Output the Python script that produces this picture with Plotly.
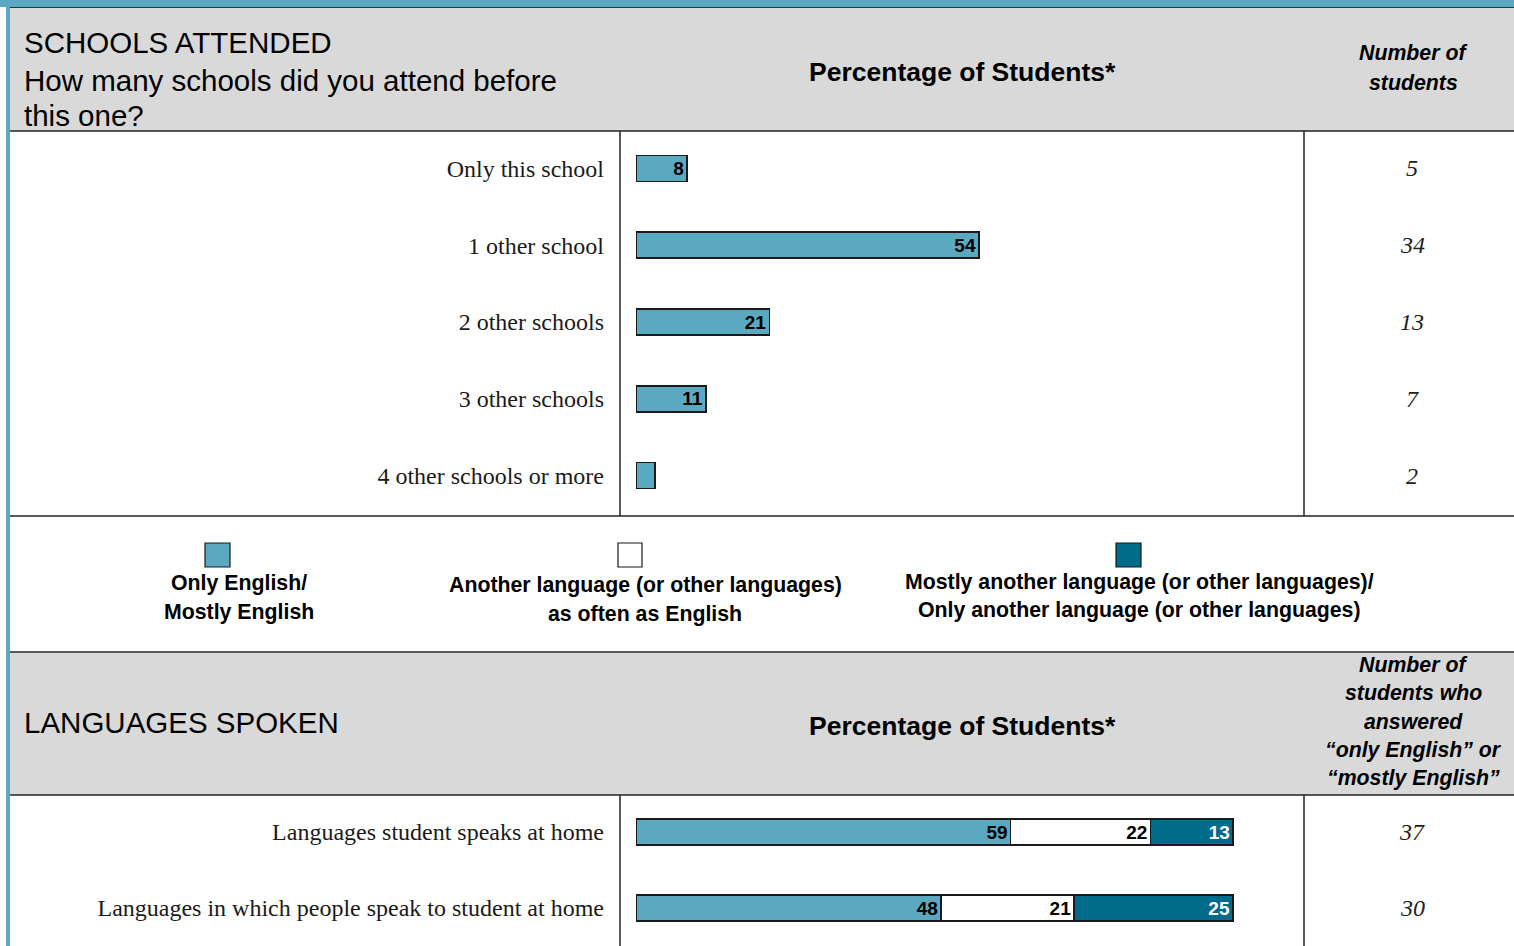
import plotly.graph_objects as go

W, H = 1514, 946

# ---- data -------------------------------------------------------------
school_cats = ["Only this school", "1 other school", "2 other schools",
               "3 other schools", "4 other schools or more"]
school_pct = [8, 54, 21, 11, 3]
school_labels = ["8", "54", "21", "11", ""]
school_counts = [5, 34, 13, 7, 2]

lang_cats = ["Languages student speaks at home",
             "Languages in which people speak to student at home"]
lang_english = [59, 48]
lang_equal = [22, 21]
lang_other = [13, 25]
lang_counts = [37, 30]

legend_lines = [
    ["Only English/", "Mostly English"],
    ["Another language (or other languages)", "as often as English"],
    ["Mostly another language (or other languages)/",
     "Only another language (or other languages)"],
]

# ---- styling ----------------------------------------------------------
TEAL = "#5BA9C1"
DARK_TEAL = "#006B8A"
GREY = "#D9D9D9"
EDGE = "#1A1A1A"
SANS = "Liberation Sans, Arial, sans-serif"
SERIF = "Liberation Serif, Times New Roman, serif"


def px(x):
    return x / W


def py(y):
    return 1 - y / H


fig = go.Figure()

fig.add_trace(go.Bar(
    x=school_pct, y=school_cats, orientation="h", xaxis="x", yaxis="y",
    marker=dict(color=TEAL, line=dict(color=EDGE, width=1.6)),
    width=0.34, text=school_labels, textposition="inside",
    insidetextanchor="end", textangle=0, constraintext="none",
    textfont=dict(family=SANS, size=19, color="black", weight="bold"),
    hoverinfo="skip", showlegend=False,
))

for vals, col, txtcol in [(lang_english, TEAL, "black"),
                          (lang_equal, "white", "black"),
                          (lang_other, DARK_TEAL, "white")]:
    fig.add_trace(go.Bar(
        x=vals, y=lang_cats, orientation="h", xaxis="x2", yaxis="y2",
        marker=dict(color=col, line=dict(color=EDGE, width=1.6)),
        width=0.34, text=[str(v) for v in vals], textposition="inside",
        insidetextanchor="end", textangle=0, constraintext="none",
        textfont=dict(family=SANS, size=19, color=txtcol, weight="bold"),
        hoverinfo="skip", showlegend=False,
    ))

shapes = []


def rect(x0, y0, x1, y1, fill, line_color=None, lw=0):
    shapes.append(dict(type="rect", xref="paper", yref="paper",
                       x0=px(x0), x1=px(x1), y0=py(y0), y1=py(y1),
                       fillcolor=fill, layer="below",
                       line=dict(color=line_color or fill, width=lw)))


def hline(y, x0=10, x1=W, color="#222222", width=1.5):
    shapes.append(dict(type="line", xref="paper", yref="paper",
                       x0=px(x0), x1=px(x1), y0=py(y), y1=py(y),
                       line=dict(color=color, width=width)))


def vline(x, y0, y1, color="#222222", width=1.5):
    shapes.append(dict(type="line", xref="paper", yref="paper",
                       x0=px(x), x1=px(x), y0=py(y0), y1=py(y1),
                       line=dict(color=color, width=width)))


# frame: teal band on top and teal stripe on the left
rect(0, 0, W, 7, TEAL)
rect(6, 0, 10, H, TEAL)
hline(7.5, x0=10, color="#333333", width=1)

# grey header bands
rect(10, 8, W, 131, GREY)
rect(10, 653, W, 795, GREY)

# table rules
for y in (131, 516, 652, 795):
    hline(y)
for x in (620, 1304):
    vline(x, 131, 516)
    vline(x, 795, H)

# legend swatches
for (x0, x1), col in zip([(205, 230), (618, 642), (1116, 1141)],
                         [TEAL, "white", DARK_TEAL]):
    shapes.append(dict(type="rect", xref="paper", yref="paper",
                       x0=px(x0), x1=px(x1), y0=py(543), y1=py(567),
                       fillcolor=col, line=dict(color=EDGE, width=1.2)))

ann = []


def text(x, y, s, size, family=SANS, bold=False, italic=False,
         anchor="center", color="black"):
    ann.append(dict(xref="paper", yref="paper", x=px(x), y=py(y), text=s,
                    showarrow=False, xanchor=anchor, yanchor="middle",
                    font=dict(family=family, size=size, color=color,
                              weight="bold" if bold else "normal",
                              style="italic" if italic else "normal")))


# header of the schools table
text(22, 42, "SCHOOLS ATTENDED", 29.5, anchor="left")
text(22, 81, "How many schools did you attend before", 29.5, anchor="left")
text(22, 115, "this one?", 29.5, anchor="left")
text(962, 72, "Percentage of Students*", 26.5, bold=True)
text(1413, 53, "Number of", 21.3, bold=True, italic=True)
text(1413, 83, "students", 21.3, bold=True, italic=True)

# legend text
for (cx, ys), lines in zip([(239, (583, 612)), (645, (585, 614)),
                            (1139, (582, 610))], legend_lines):
    for yy, s in zip(ys, lines):
        text(cx, yy, s, 21.3, bold=True)

# header of the languages table
text(22, 722, "LANGUAGES SPOKEN", 29.5, anchor="left")
text(962, 726, "Percentage of Students*", 26.5, bold=True)
for yy, s in zip((665, 693, 722, 750, 778),
                 ["Number of", "students who", "answered",
                  "\u201conly English\u201d or", "\u201cmostly English\u201d"]):
    text(1413, yy, s, 21.3, bold=True, italic=True)

# student counts, aligned with the bar rows
count_font = dict(family=SERIF, size=24, style="italic", color="#222222")
for cat, n in zip(school_cats, school_counts):
    ann.append(dict(xref="paper", yref="y", x=px(1412), y=cat, text=str(n),
                    showarrow=False, xanchor="center", yanchor="middle",
                    font=count_font))
for cat, n in zip(lang_cats, lang_counts):
    ann.append(dict(xref="paper", yref="y2", x=px(1412), y=cat, text=str(n),
                    showarrow=False, xanchor="center", yanchor="middle",
                    font=count_font))

xa = dict(domain=[px(636), px(1271)], range=[0, 100], visible=False,
          fixedrange=True)
ya_common = dict(showgrid=False, zeroline=False, showline=False, ticks="",
                 ticklabelstandoff=31, fixedrange=True,
                 tickfont=dict(family=SERIF, size=24, color="#1a1a1a"))

fig.update_layout(
    width=W, height=H, margin=dict(l=0, r=0, t=0, b=0),
    paper_bgcolor="white", plot_bgcolor="rgba(0,0,0,0)",
    barmode="stack", showlegend=False,
    xaxis=dict(**xa, anchor="y"),
    xaxis2=dict(**xa, anchor="y2"),
    yaxis=dict(**ya_common, domain=[py(514), py(130)], anchor="x",
               type="category", categoryorder="array",
               categoryarray=school_cats, range=[4.5, -0.5]),
    yaxis2=dict(**ya_common, domain=[0, py(794)], anchor="x2",
                type="category", categoryorder="array",
                categoryarray=lang_cats, range=[1.5, -0.5]),
    shapes=shapes, annotations=ann,
)

fig.write_html("out.html", config={"displayModeBar": False})
